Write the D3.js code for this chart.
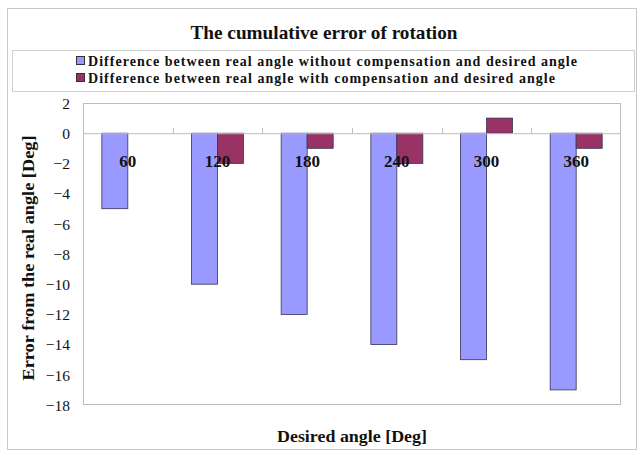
<!DOCTYPE html>
<html><head><meta charset="utf-8">
<script src="https://cdn.jsdelivr.net/npm/d3@7"></script>
<style>body{margin:0;background:#fff}svg{display:block}</style>
</head><body>
<script>
const categories = ["60","120","180","240","300","360"];
const seriesNames = ["Difference between real angle without compensation and desired angle","Difference between real angle with compensation and desired angle"];
const withoutComp = [-5,-10,-12,-14,-15,-17];
const withComp = [0,-2,-1,-2,1,-1];
const yTicks = [2,0,-2,-4,-6,-8,-10,-12,-14,-16,-18];
const colors = ["#9999FF","#993366"];

const FONT="Liberation Serif";
const W=644,H=456;
const svg=d3.select("body").append("svg").attr("width",W).attr("height",H);
svg.append("rect").attr("x",7.5).attr("y",8.5).attr("width",629).attr("height",441).attr("fill","#fff").attr("stroke","#c8c8c8");

const L=83,R=621,T=103,B=405;
const x=d3.scaleBand().domain(categories).range([L,R]).paddingInner(0.42).paddingOuter(0.21);
const xs=d3.scaleBand().domain([0,1]).range([0,x.bandwidth()]);
const y=d3.scaleLinear().domain([-18,2]).range([B,T]);

function txt(sel){return sel.style("font-family",FONT).style("font-weight","bold").attr("fill","#111");}

txt(svg.append("text")).attr("x",324).attr("y",39).attr("text-anchor","middle").style("font-size","19.5px")
  .attr("textLength",267).attr("lengthAdjust","spacingAndGlyphs").text("The cumulative error of rotation");

// legend
svg.append("rect").attr("x",12.5).attr("y",50.5).attr("width",622).attr("height",41).attr("fill","#fff").attr("stroke","#d0d0d0");
const legLens=[489,467];
seriesNames.forEach((n,i)=>{
  const ly=61+i*17;
  svg.append("rect").attr("x",76.5).attr("y",ly-4.5).attr("width",8).attr("height",8).attr("fill",colors[i]).attr("stroke","#333");
  txt(svg.append("text")).attr("x",88).attr("y",ly+4.5).style("font-size","14px")
    .attr("textLength",legLens[i]).attr("lengthAdjust","spacing").text(n);
});

// plot frame
svg.append("rect").attr("x",L+0.5).attr("y",T+0.5).attr("width",R-L-1).attr("height",B-T-1).attr("fill","none").attr("stroke","#bdbdbd");

// y axis
const ya=svg.append("g").attr("transform",`translate(${L},0)`).call(d3.axisLeft(y).tickValues(yTicks).tickSize(0).tickPadding(13).tickFormat(d3.format("d")));
ya.select(".domain").remove();
ya.selectAll("text").style("font-size","15.5px").attr("fill","#111").style("font-family",FONT).attr("dy","0.34em");

// bars
const data=categories.map((c,i)=>({c,v:[withoutComp[i],withComp[i]]}));
const g=svg.append("g");
data.forEach(d=>{
  d.v.forEach((v,k)=>{
    if(v===0) return;
    g.append("rect").attr("x",x(d.c)+xs(k)).attr("y",y(Math.max(0,v))).attr("width",xs.bandwidth()).attr("height",Math.abs(y(v)-y(0)))
      .attr("fill",colors[k]).attr("stroke","#333355").attr("stroke-width",0.8);
  });
});

// x axis at zero
svg.append("line").attr("x1",L).attr("x2",R).attr("y1",y(0)+0.5).attr("y2",y(0)+0.5).attr("stroke","#bdbdbd");
d3.range(1,categories.length).forEach(i=>{
  const tx=Math.round(L+i*(R-L)/categories.length)+0.5;
  svg.append("line").attr("x1",tx).attr("x2",tx).attr("y1",y(0)).attr("y2",y(0)-5).attr("stroke","#bdbdbd");
});
categories.forEach(c=>{
  txt(svg.append("text")).attr("x",x(c)+x.bandwidth()/2).attr("y",y(0)+34).attr("text-anchor","middle").style("font-size","17px").text(c);
});

txt(svg.append("text")).attr("transform",`translate(34,${(T+B)/2+4}) rotate(-90)`).attr("text-anchor","middle").style("font-size","16px")
  .attr("textLength",245).attr("lengthAdjust","spacingAndGlyphs").text("Error from the real angle [Deg]");
txt(svg.append("text")).attr("x",352).attr("y",442).attr("text-anchor","middle").style("font-size","16.5px")
  .attr("textLength",150).attr("lengthAdjust","spacingAndGlyphs").text("Desired angle [Deg]");
</script>
</body></html>
